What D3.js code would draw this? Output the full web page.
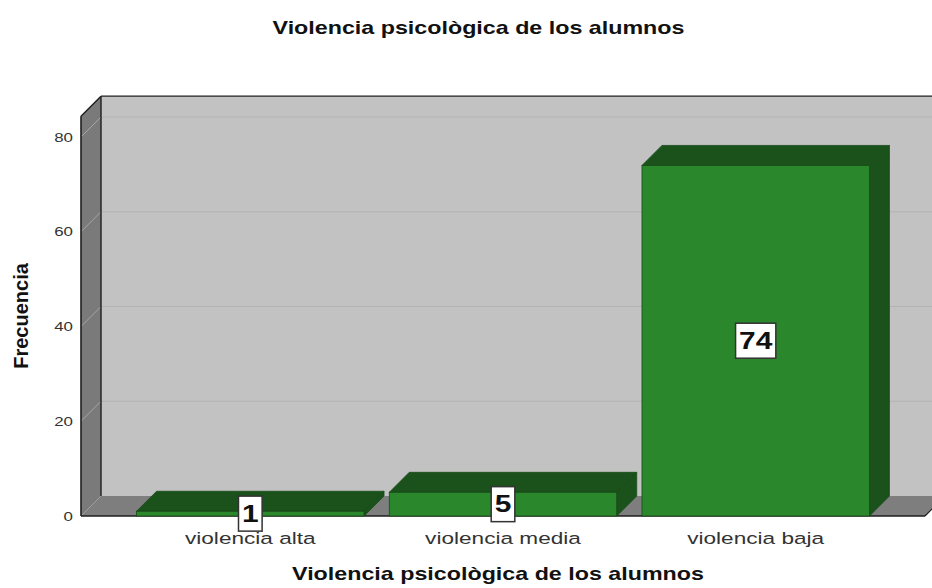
<!DOCTYPE html>
<html>
<head>
<meta charset="utf-8">
<script src="https://cdn.jsdelivr.net/npm/d3@7"></script>
<style>
  html, body { margin: 0; padding: 0; background: #fff; }
  svg { display: block; font-family: Arial, "Liberation Sans", sans-serif; }
</style>
</head>
<body>
<svg id="chart" width="932" height="588"></svg>
<script>
// ---- data ----
const categories = ["violencia alta", "violencia media", "violencia baja"];
const frequencies = [1, 5, 74];
const yTicks = [0, 20, 40, 60, 80];
const yMax = 84.4;
const chartTitle = "Violencia psicològica de los alumnos";
const xTitle = "Violencia psicològica de los alumnos";
const yTitle = "Frecuencia";

// ---- layout ----
const W = 932, H = 588;
const left = 81, right = 925, base = 516, top80 = 137;
const DX = 20, DY = -20;   // depth offset
const SX = 1.33;           // horizontal text stretch

const svg = d3.select("#chart");

const y = d3.scaleLinear().domain([0, 80]).range([base, top80]);
const x = d3.scaleBand().domain(categories).range([left, right])
  .paddingInner(0.1).paddingOuter(0.22);

const pts = a => a.map(p => p.join(",")).join(" ");
const yTop = y(yMax);

// back wall
svg.append("polygon")
  .attr("points", pts([[left + DX, yTop + DY], [right + DX + 40, yTop + DY], [right + DX + 40, base + DY], [left + DX, base + DY]]))
  .attr("fill", "#c2c2c2");
// left wall
svg.append("polygon")
  .attr("points", pts([[left, yTop], [left + DX, yTop + DY], [left + DX, base + DY], [left, base]]))
  .attr("fill", "#7a7a7a");
// floor
svg.append("polygon")
  .attr("points", pts([[left, base], [left + DX, base + DY], [right + DX, base + DY], [right, base]]))
  .attr("fill", "#7e7e7e");

// gridlines
yTicks.filter(t => t > 0).forEach(t => {
  svg.append("line")
    .attr("x1", left + DX).attr("x2", right + DX + 40)
    .attr("y1", y(t) + DY).attr("y2", y(t) + DY)
    .attr("stroke", "#b3b3b3").attr("stroke-width", 1.2);
  svg.append("line")
    .attr("x1", left).attr("x2", left + DX)
    .attr("y1", y(t)).attr("y2", y(t) + DY)
    .attr("stroke", "#a6a6a6").attr("stroke-width", 1);
});

// wall outlines
const edge = (x1, y1, x2, y2, w) => svg.append("line")
  .attr("x1", x1).attr("y1", y1).attr("x2", x2).attr("y2", y2)
  .attr("stroke", "#1e1e1e").attr("stroke-width", w || 1.6);
edge(left, yTop, left, base);
edge(left + DX, yTop + DY, left + DX, base + DY, 1.4);
edge(left, yTop, left + DX, yTop + DY, 1.4);
edge(left + DX, yTop + DY, right + DX + 40, yTop + DY, 1.4);
edge(left, base, right, base, 1.6);
edge(right, base, right + DX, base + DY, 1.2);

// bars
const front = "#2a872c", dark = "#1b521b", stroke = "#184a18";
const bars = svg.append("g");
categories.forEach((c, i) => {
  const v = frequencies[i];
  const x0 = x(c), x1 = x(c) + x.bandwidth();
  const y0 = base, y1 = y(v);
  const g = bars.append("g");
  // side
  g.append("polygon")
    .attr("points", pts([[x1, y1], [x1 + DX, y1 + DY], [x1 + DX, y0 + DY], [x1, y0]]))
    .attr("fill", dark).attr("stroke", stroke).attr("stroke-width", 0.8);
  // top
  g.append("polygon")
    .attr("points", pts([[x0, y1], [x0 + DX, y1 + DY], [x1 + DX, y1 + DY], [x1, y1]]))
    .attr("fill", dark).attr("stroke", stroke).attr("stroke-width", 0.8);
  // front
  g.append("rect")
    .attr("x", x0).attr("y", y1).attr("width", x1 - x0).attr("height", y0 - y1)
    .attr("fill", front).attr("stroke", stroke).attr("stroke-width", 0.8);
});

// stretched text helper
function stext(parent, tx, ty, str, opts) {
  const t = parent.append("text")
    .attr("transform", `translate(${tx},${ty}) scale(${opts.sx || SX},1)`)
    .attr("text-anchor", opts.anchor || "middle")
    .attr("font-size", opts.size)
    .attr("font-weight", opts.weight || "normal")
    .attr("fill", opts.fill || "#000")
    .text(str);
  return t;
}

// y tick labels
yTicks.forEach(t => {
  stext(svg, 73, y(t), t, { anchor: "end", size: 13, fill: "#333", sx: 1.3 })
    .attr("dominant-baseline", "central");
});

// category labels
categories.forEach(c => {
  stext(svg, x(c) + x.bandwidth() / 2, 544, c, { size: 17, fill: "#333" });
});

// value labels
categories.forEach((c, i) => {
  const v = frequencies[i];
  const cx = x(c) + x.bandwidth() / 2;
  const cy = (base + y(v)) / 2;
  const g = svg.append("g");
  const rect = g.append("rect");
  const t = stext(g, cx, cy + 8, v, { size: 23, weight: "bold", fill: "#111", sx: 1.3 });
  const w = t.node().getComputedTextLength() * 1.3 + 7;
  const h = 35;
  rect.attr("x", cx - w / 2).attr("y", cy - h / 2).attr("width", w).attr("height", h)
    .attr("fill", "#fff").attr("stroke", "#333").attr("stroke-width", 1.5);
});

// titles
stext(svg, 478.5, 34, chartTitle, { size: 17.5, weight: "bold", fill: "#111" });
stext(svg, 498, 580, xTitle, { size: 17.5, weight: "bold", fill: "#111" });
svg.append("text")
  .attr("transform", `translate(28,316) rotate(-90)`)
  .attr("text-anchor", "middle")
  .attr("font-size", 20).attr("font-weight", "bold").attr("fill", "#111")
  .text(yTitle);
</script>
</body>
</html>
